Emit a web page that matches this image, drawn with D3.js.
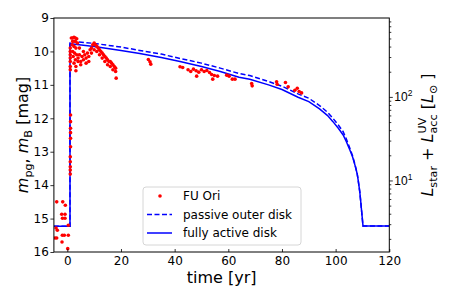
<!DOCTYPE html>
<html>
<head>
<meta charset="utf-8">
<script src="https://cdn.jsdelivr.net/npm/d3@7"></script>
<style>
  body { margin: 0; background: #fff; }
  svg { font-family: "DejaVu Sans", sans-serif; }
</style>
</head>
<body>
<svg id="chart" width="449" height="299"></svg>
<script>
// ----- data (time in yr, magnitude) -----
const timeDomain = [-5, 120];
const magDomain = [9, 16];
const xTicks = [0, 20, 40, 60, 80, 100, 120];
const magTicks = [9, 10, 11, 12, 13, 14, 15, 16];
const lumMajor = [10, 100];
const lumMinor = [2, 3, 4, 5, 6, 7, 8, 9, 20, 30, 40, 50, 60, 70, 80, 90, 200, 300, 400, 500, 600, 700, 800];
const magAt100 = 11.36; // magnitude where L = 100 Lsun

// FU Ori photometry
const fuOriQuiescent = [[-3.95,14.50],[-1.71,14.50],[-0.74,14.60],[-2.09,14.87],[-0.86,14.87],[-1.8,14.99],
  [-0.86,14.99],[0.37,15.20],[-4.2,15.28],[-3.72,15.35],[-4.58,15.58],[-3.95,15.58],[-1.86,15.50],
  [-1.12,15.50],[0.37,15.50],[-1.97,15.70],[0.15,15.90]];
const fuOriRise = [[1.1,13.67],[1.1,13.55],[1.1,13.45],[1.1,13.3],[1.1,13.15],[1.2,12.85],[1.2,12.6],
  [1.2,12.43],[1.2,12.3],[1.2,12.1],[1.2,11.9],[1.1,10.55],[1.1,10.45],[1.1,10.3],[1.1,10.2],
  [1.1,10.1],[1.1,10.0],[1.1,9.9]];
const fuOriPeak = [[1.5,9.6],[2,9.6],[2.5,9.58],[3,9.6],[3.5,9.62],[2,9.7],[3,9.7],[1.8,9.8],[2.5,9.85],
  [3.2,9.9],[2,10.0],[2.7,10.05],[3.5,10.1],[2.2,10.15],[3,10.25],[2.5,10.35],[3.2,10.45],[3.2,10.58],
  [4,10.2],[4.5,10.1],[5,10.3],[5.5,10.15],[6,10.25],[6.5,10.1],[7,10.2],[7.5,10.05],[8,10.15],
  [8.5,9.95],[9,9.9],[9.5,9.8],[10,9.75],[10.5,9.8],[11,9.85],[11.5,9.9],[12,9.95],[12.5,10.0],
  [13,10.05],[13.5,10.1],[14,10.15],[14.5,10.2],[15,10.25],[15.5,10.3],[16,10.3],[16.5,10.35],
  [17,10.4],[17.5,10.45],[18,10.5],[18,10.6],[18.2,10.8],[16,10.45],[17,10.55],[14,10.3],[12,10.1],
  [10,9.95],[9,10.05],[7,10.35],[5,10.4],[4,10.3],[6,10.0],[8,10.3],[13,10.2],[15,10.4],[11,10.0],
  [4.5,9.9],[3.8,9.75]];
const fuOriDecline = [[30.2,10.24],[30.8,10.31],[31.1,10.38],[42,10.46],[43,10.48],[45,10.55],[46,10.6],
  [47,10.53],[48,10.58],[49,10.62],[50,10.55],[51,10.6],[52,10.57],[53,10.63],[48.2,10.74],[53.8,10.69],
  [54.8,10.72],[56,10.74],[54.2,10.83],[59.4,10.71],[60.3,10.74],[61.5,10.83],[62.5,10.83],[68.7,10.96],
  [68.9,11.03],[78,10.91],[78.2,10.98],[81.3,10.93],[82.3,11.06],[84.8,11.16],[85.7,11.1],[86.4,11.2],
  [87.3,11.24]];

// model light curves
const fullyActive = [[-5,15.23],[1.0,15.23],[1.0,9.78],[1.2,9.77],[10,9.85],[20,9.97],[27,10.06],[35,10.18],
  [42,10.3],[50,10.45],[57,10.6],[64,10.77],[68,10.83],[75,11.0],[80,11.14],[86,11.37],[90,11.5],
  [94,11.72],[97,11.92],[99,12.1],[101,12.3],[102.8,12.5],[104,12.7],[105.3,12.95],[106.3,13.15],
  [107.2,13.4],[108,13.65],[108.4,13.85],[109,14.2],[109.3,14.45],[110.2,15.22],[120,15.22]];
const passiveOuter = [[-5,15.23],[1.0,15.23],[1.0,9.70],[1.2,9.69],[10,9.76],[20,9.87],[27,9.97],[35,10.08],
  [42,10.21],[50,10.35],[57,10.5],[64,10.66],[68,10.72],[75,10.9],[80,11.04],[86,11.27],[90,11.4],
  [94,11.62],[97,11.82],[99,12.0],[101,12.2],[102.8,12.4],[104,12.62],[105.3,12.9],[106.3,13.12],
  [107.2,13.38],[108,13.64],[108.4,13.85],[109,14.2],[109.3,14.45],[110.2,15.22],[120,15.22]];

const legendItems = ["FU Ori", "passive outer disk", "fully active disk"];

// ----- layout -----
const svg = d3.select("#chart");
const plotLeft = 53.9, plotRight = 389.3, plotTop = 18, plotBottom = 252;

const x = d3.scaleLinear().domain(timeDomain).range([plotLeft, plotRight]);
const y = d3.scaleLinear().domain(magDomain).range([plotTop, plotBottom]);
const lumOf = m => 100 * Math.pow(10, -0.4 * (m - magAt100));
const yL = d3.scaleLog().domain([lumOf(magDomain[1]), lumOf(magDomain[0])]).range([plotBottom, plotTop]);

svg.append("defs").append("clipPath").attr("id", "plotClip")
  .append("rect").attr("x", plotLeft).attr("y", plotTop)
  .attr("width", plotRight - plotLeft).attr("height", plotBottom - plotTop);

const gPlot = svg.append("g").attr("clip-path", "url(#plotClip)");
const line = d3.line().x(d => x(d[0])).y(d => y(d[1]));

gPlot.append("path").datum(passiveOuter).attr("d", line)
  .attr("fill", "none").attr("stroke", "#0000ff").attr("stroke-width", 1.5).attr("stroke-dasharray", "5,2.5");
gPlot.append("path").datum(fullyActive).attr("d", line)
  .attr("fill", "none").attr("stroke", "#0000ff").attr("stroke-width", 1.5);

const allObs = fuOriQuiescent.concat(fuOriRise, fuOriPeak, fuOriDecline);
gPlot.selectAll("circle.obs").data(allObs).join("circle")
  .attr("class", "obs")
  .attr("cx", d => x(d[0])).attr("cy", d => y(d[1])).attr("r", 1.8).attr("fill", "#ff0000");

// ----- axes -----
const fontTick = 12;
const xAxis = d3.axisBottom(x).tickValues(xTicks).tickSize(-3).tickPadding(4).tickSizeOuter(0);
svg.append("g").attr("transform", `translate(0,${plotBottom})`).call(xAxis);

const yAxis = d3.axisLeft(y).tickValues(magTicks).tickFormat(d3.format("d"))
  .tickSize(3.5).tickPadding(1.5).tickSizeOuter(0);
svg.append("g").attr("transform", `translate(${plotLeft},0)`).call(yAxis);

const yAxisR = d3.axisRight(yL).tickValues(lumMajor).tickSize(3.5).tickSizeOuter(0).tickFormat("");
const gr = svg.append("g").attr("transform", `translate(${plotRight},0)`).call(yAxisR);
const yAxisRMinor = d3.axisRight(yL).tickValues(lumMinor).tickSize(2).tickFormat("").tickSizeOuter(0);
svg.append("g").attr("transform", `translate(${plotRight},0)`).call(yAxisRMinor);

svg.selectAll(".domain").remove();
svg.selectAll(".tick line").attr("stroke", "#000").attr("stroke-width", 0.8);
svg.selectAll(".tick text").attr("font-size", fontTick).attr("fill", "#000").attr("font-family", "DejaVu Sans");

// right tick labels as 10^n
gr.selectAll(".tick").each(function(d) {
  const t = d3.select(this).append("text").attr("x", 5).attr("dy", "0.32em")
    .attr("font-size", fontTick).attr("fill", "#000");
  t.append("tspan").text("10");
  t.append("tspan").attr("font-size", 8.5).attr("dy", -5).text(Math.round(Math.log10(d)));
});

// frame
svg.append("rect").attr("x", plotLeft).attr("y", plotTop)
  .attr("width", plotRight - plotLeft).attr("height", plotBottom - plotTop)
  .attr("fill", "none").attr("stroke", "#000").attr("stroke-width", 1);

// ----- axis labels (math-ish pieces laid out in a row) -----
function mathLabel(g, pieces, size) {
  let cx = 0;
  pieces.forEach(p => {
    if (p.stack) {
      let w = 0;
      p.stack.forEach(s => {
        const t = g.append("text").attr("x", cx).attr("y", s.dy).attr("font-size", size * 0.7)
          .attr("fill", "#000").text(s.text);
        w = Math.max(w, t.node().getComputedTextLength());
      });
      cx += w;
      return;
    }
    const fs = p.sub ? size * 0.7 : size;
    const t = g.append("text").attr("x", cx).attr("y", p.sub ? size * 0.25 : 0)
      .attr("font-size", fs).attr("fill", "#000")
      .attr("font-style", p.it ? "italic" : "normal")
      .style("white-space", "pre").text(p.text);
    cx += t.node().getComputedTextLength();
  });
  return cx;
}

svg.append("text").attr("x", (plotLeft + plotRight) / 2).attr("y", 283).attr("text-anchor", "middle")
  .attr("font-size", 16).attr("fill", "#000").text("time [yr]");

const gLeft = svg.append("g");
const wLeft = mathLabel(gLeft, [
  { text: "m", it: true }, { text: "pg", sub: true }, { text: ", " },
  { text: "m", it: true }, { text: "B", sub: true }, { text: " [mag]" }
], 16);
gLeft.attr("transform", `translate(28,${(plotTop + plotBottom) / 2 + wLeft / 2}) rotate(-90)`);

const gRight = svg.append("g");
const wRight = mathLabel(gRight, [
  { text: "L", it: true }, { text: "star", sub: true }, { text: " + " },
  { text: "L", it: true }, { stack: [{ text: "UV", dy: -7 }, { text: "acc", dy: 4 }] },
  { text: " [" }, { text: "L", it: true }, { text: "\u2299", sub: true }, { text: " ]" }
], 16);
gRight.attr("transform", `translate(433,${(plotTop + plotBottom) / 2 + wRight / 2}) rotate(-90)`);

// ----- legend -----
const lg = svg.append("g");
lg.append("rect").attr("x", 143).attr("y", 187).attr("width", 158).attr("height", 58).attr("rx", 3)
  .attr("fill", "#fff").attr("fill-opacity", 0.8).attr("stroke", "#cccccc").attr("stroke-width", 0.8);
const rowY = [196, 214.5, 233];
lg.append("circle").attr("cx", 160).attr("cy", rowY[0]).attr("r", 1.8).attr("fill", "#ff0000");
lg.append("line").attr("x1", 147).attr("x2", 172).attr("y1", rowY[1]).attr("y2", rowY[1])
  .attr("stroke", "#0000ff").attr("stroke-width", 1.5).attr("stroke-dasharray", "5,2.5");
lg.append("line").attr("x1", 147).attr("x2", 172).attr("y1", rowY[2]).attr("y2", rowY[2])
  .attr("stroke", "#0000ff").attr("stroke-width", 1.5);
lg.selectAll("text.lab").data(legendItems).join("text").attr("class", "lab")
  .attr("x", 183).attr("y", (d, i) => rowY[i]).attr("dy", "0.35em")
  .attr("font-size", 12).attr("fill", "#000").text(d => d);
</script>
</body>
</html>
